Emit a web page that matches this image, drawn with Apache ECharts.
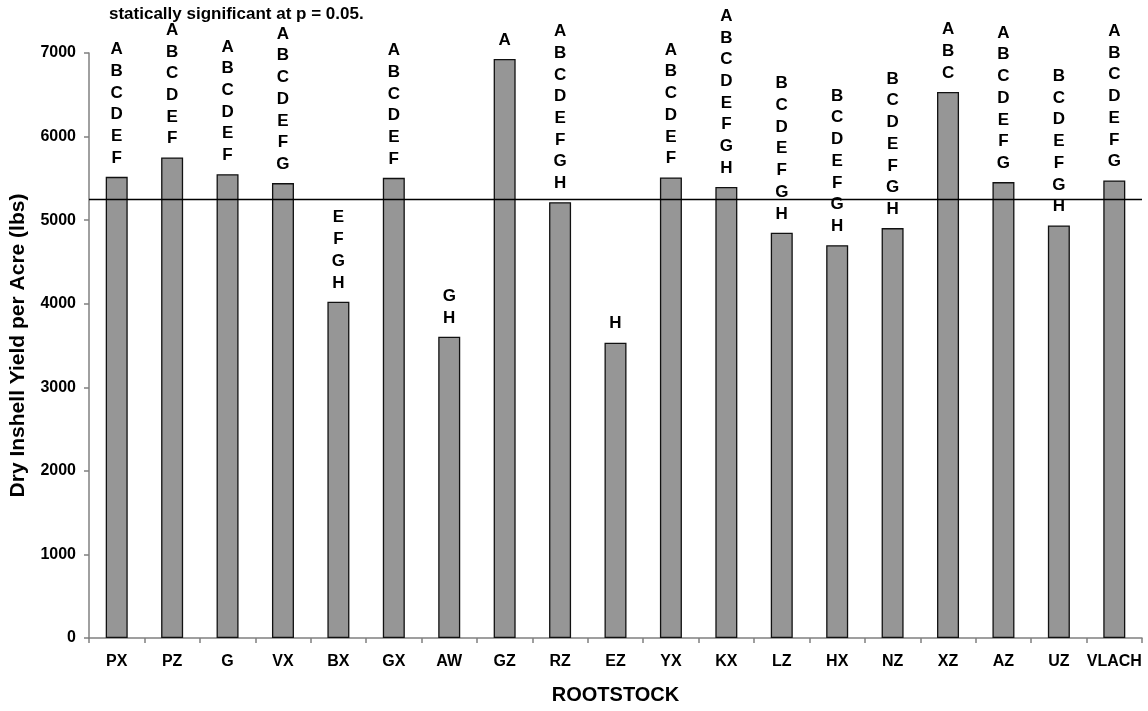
<!DOCTYPE html>
<html>
<head>
<meta charset="utf-8">
<style>
  html, body { margin: 0; padding: 0; background: #ffffff; }
  #chart { width: 1148px; height: 711px; }
</style>
<script src="https://cdn.jsdelivr.net/npm/echarts@6/dist/echarts.min.js"></script>
</head>
<body>
<div id="chart"></div>
<script>
// Rootstock trial: dry inshell yield per acre, with significance groupings
const categories = ['PX', 'PZ', 'G', 'VX', 'BX', 'GX', 'AW', 'GZ', 'RZ', 'EZ',
                    'YX', 'KX', 'LZ', 'HX', 'NZ', 'XZ', 'AZ', 'UZ', 'VLACH'];
const yields = [5518, 5750, 5550, 5443, 4024, 5506, 3605, 6928, 5215, 3534,
                5511, 5398, 4849, 4701, 4905, 6534, 5455, 4937, 5475];
const groups = ['ABCDEF', 'ABCDEF', 'ABCDEF', 'ABCDEFG', 'EFGH', 'ABCDEF', 'GH', 'A',
                'ABCDEFGH', 'H', 'ABCDEF', 'ABCDEFGH', 'BCDEFGH', 'BCDEFGH', 'BCDEFGH',
                'ABC', 'ABCDEFG', 'BCDEFGH', 'ABCDEFG'];
const referenceYield = 5249;
const yMin = 0, yMax = 7000, yStep = 1000;

const FONT = '"Liberation Sans", Arial, Helvetica, sans-serif';
const AXIS_GREY = '#808080';

const chart = echarts.init(document.getElementById('chart'), null, { renderer: 'canvas' });

chart.setOption({
  animation: false,
  backgroundColor: '#ffffff',
  title: {
    text: 'statically significant at p = 0.05.',
    left: 104,
    top: 1,
    textStyle: { fontFamily: FONT, fontWeight: 'bold', fontSize: 17, color: '#000' }
  },
  grid: { left: 89, right: 6, top: 53, bottom: 73, containLabel: false },
  xAxis: {
    type: 'category',
    data: categories,
    name: 'ROOTSTOCK',
    nameLocation: 'middle',
    nameGap: 47,
    nameTextStyle: { fontFamily: FONT, fontWeight: 'bold', fontSize: 20, color: '#000' },
    axisLine: { lineStyle: { color: AXIS_GREY, width: 1.5 } },
    axisTick: { show: true, length: 5, lineStyle: { color: AXIS_GREY, width: 1.5 } },
    axisLabel: { margin: 16, fontFamily: FONT, fontWeight: 'bold', fontSize: 16, color: '#000', interval: 0 }
  },
  yAxis: {
    type: 'value',
    min: yMin,
    max: yMax,
    interval: yStep,
    name: 'Dry Inshell Yield per Acre (lbs)',
    nameLocation: 'middle',
    nameGap: 60,
    nameRotate: 90,
    nameTextStyle: { fontFamily: FONT, fontWeight: 'bold', fontSize: 21, color: '#000' },
    axisLine: { show: true, lineStyle: { color: AXIS_GREY, width: 1.5 } },
    axisTick: { show: true, length: 5, lineStyle: { color: AXIS_GREY, width: 1.5 } },
    axisLabel: {
      margin: 13, fontFamily: FONT, fontWeight: 'bold', fontSize: 16, color: '#000',
      formatter: v => String(v)
    },
    splitLine: { show: false }
  },
  series: [{
    type: 'bar',
    data: yields,
    barWidth: 22,
    itemStyle: { color: '#969696', borderColor: '#111', borderWidth: 1.3 },
    label: {
      show: true,
      position: 'top',
      distance: 8,
      fontFamily: FONT,
      fontWeight: 'bold',
      fontSize: 17,
      lineHeight: 21.7,
      color: '#000',
      formatter: p => groups[p.dataIndex].split('').join('\n')
    },
    markLine: {
      silent: true,
      symbol: 'none',
      label: { show: false },
      lineStyle: { color: '#000', width: 1.3, type: 'solid' },
      data: [{ yAxis: referenceYield }]
    }
  }],
  graphic: [{
    // small stray stroke beside the GX bar
    type: 'line',
    shape: { x1: 397.5, y1: 238.5, x2: 399.5, y2: 234 },
    style: { stroke: '#222', lineWidth: 1.2 }
  }]
});
</script>
</body>
</html>
